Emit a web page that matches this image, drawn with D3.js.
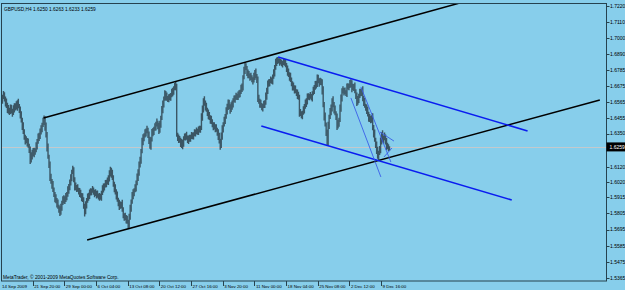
<!DOCTYPE html>
<html>
<head>
<meta charset="utf-8">
<script src="https://cdn.jsdelivr.net/npm/d3@7"></script>
<style>
  body { margin: 0; background: #87ceeb; }
  svg { display: block; }
  text { font-family: "Liberation Sans", Arial, sans-serif; }
</style>
</head>
<body>
<script>
var symbol = "GBPUSD,H4";
var lastBar = [1.6250, 1.6263, 1.6233, 1.6259]; // open high low close of the last bar

// H4 bars, 14 Sep 2009 16:00 .. 11 Dec 2009 00:00
var highs = [
  1.6601,1.6615,1.6641,1.6631,1.6602,1.6590,1.6560,1.6545,1.6526,1.6548,
  1.6546,1.6520,1.6543,1.6556,1.6557,1.6570,1.6578,1.6588,1.6551,1.6535,
  1.6502,1.6458,1.6428,1.6379,1.6342,1.6331,1.6320,1.6316,1.6281,1.6262,
  1.6222,1.6239,1.6252,1.6253,1.6250,1.6290,1.6313,1.6350,1.6356,1.6385,
  1.6407,1.6423,1.6458,1.6474,1.6468,1.6425,1.6360,1.6282,1.6206,1.6160,
  1.6076,1.6040,1.6027,1.5983,1.5952,1.5936,1.5910,1.5900,1.5865,1.5854,
  1.5872,1.5892,1.5923,1.5929,1.5923,1.5945,1.5951,1.5990,1.6006,1.6037,
  1.6072,1.6103,1.6130,1.6120,1.6052,1.6017,1.6000,1.6005,1.5981,1.5979,
  1.5967,1.5945,1.5943,1.5915,1.5872,1.5888,1.5910,1.5941,1.5946,1.5969,
  1.5977,1.5975,1.5993,1.5983,1.5967,1.5970,1.5960,1.5961,1.5941,1.5944,
  1.5940,1.5960,1.5998,1.6010,1.6011,1.6033,1.6035,1.6050,1.6066,1.6099,
  1.6124,1.6117,1.6103,1.6065,1.6022,1.6004,1.5970,1.5955,1.5913,1.5899,
  1.5887,1.5885,1.5898,1.5848,1.5807,1.5810,1.5794,1.5790,1.5763,1.5804,
  1.5864,1.5900,1.5952,1.5970,1.5977,1.6004,1.6030,1.6077,1.6106,1.6160,
  1.6192,1.6245,1.6321,1.6345,1.6352,1.6379,1.6385,1.6404,1.6390,1.6364,
  1.6328,1.6325,1.6382,1.6388,1.6397,1.6420,1.6430,1.6452,1.6438,1.6424,
  1.6437,1.6471,1.6538,1.6576,1.6602,1.6645,1.6640,1.6630,1.6606,1.6619,
  1.6621,1.6627,1.6655,1.6663,1.6673,1.6695,1.6701,1.6690,1.6356,1.6344,
  1.6334,1.6321,1.6313,1.6308,1.6332,1.6351,1.6353,1.6363,1.6336,1.6337,
  1.6342,1.6342,1.6361,1.6358,1.6359,1.6379,1.6378,1.6392,1.6383,1.6399,
  1.6404,1.6403,1.6488,1.6542,1.6591,1.6604,1.6575,1.6561,1.6526,1.6514,
  1.6497,1.6475,1.6471,1.6448,1.6427,1.6427,1.6413,1.6413,1.6390,1.6379,
  1.6355,1.6315,1.6358,1.6406,1.6427,1.6465,1.6483,1.6530,1.6554,1.6582,
  1.6580,1.6550,1.6563,1.6575,1.6591,1.6610,1.6612,1.6629,1.6622,1.6637,
  1.6646,1.6649,1.6683,1.6692,1.6748,1.6805,1.6838,1.6830,1.6811,1.6787,
  1.6777,1.6760,1.6764,1.6747,1.6734,1.6765,1.6783,1.6793,1.6756,1.6739,
  1.6615,1.6587,1.6580,1.6558,1.6552,1.6574,1.6578,1.6630,1.6663,1.6712,
  1.6720,1.6723,1.6740,1.6733,1.6752,1.6788,1.6817,1.6861,1.6868,1.6872,
  1.6864,1.6863,1.6858,1.6853,1.6845,1.6861,1.6858,1.6858,1.6831,1.6814,
  1.6794,1.6769,1.6764,1.6733,1.6707,1.6699,1.6680,1.6677,1.6653,1.6651,
  1.6635,1.6614,1.6518,1.6502,1.6506,1.6536,1.6552,1.6582,1.6591,1.6623,
  1.6625,1.6621,1.6634,1.6620,1.6639,1.6669,1.6681,1.6708,1.6711,1.6753,
  1.6751,1.6727,1.6730,1.6726,1.6720,1.6672,1.6565,1.6493,1.6426,1.6378,
  1.6430,1.6478,1.6525,1.6549,1.6591,1.6604,1.6565,1.6541,1.6503,1.6487,
  1.6444,1.6458,1.6548,1.6617,1.6659,1.6672,1.6660,1.6664,1.6646,1.6692,
  1.6693,1.6689,1.6716,1.6720,1.6714,1.6689,1.6688,1.6698,1.6653,1.6630,
  1.6607,1.6621,1.6655,1.6655,1.6659,1.6672,1.6606,1.6592,1.6554,1.6549,
  1.6533,1.6499,1.6484,1.6471,1.6475,1.6488,1.6408,1.6377,1.6322,1.6296,
  1.6260,1.6233,1.6266,1.6324,1.6359,1.6372,1.6336,1.6357,1.6343,1.6320,
  1.6287,1.6277,1.6263
];
var lows = [
  1.6561,1.6553,1.6586,1.6568,1.6535,1.6524,1.6491,1.6485,1.6477,1.6483,
  1.6487,1.6464,1.6476,1.6493,1.6508,1.6514,1.6506,1.6523,1.6491,1.6453,
  1.6425,1.6374,1.6347,1.6308,1.6276,1.6284,1.6262,1.6253,1.6218,1.6143,
  1.6152,1.6174,1.6196,1.6188,1.6205,1.6222,1.6241,1.6281,1.6300,1.6313,
  1.6343,1.6359,1.6394,1.6408,1.6370,1.6324,1.6228,1.6178,1.6116,1.6027,
  1.6007,1.5973,1.5951,1.5918,1.5881,1.5874,1.5846,1.5837,1.5810,1.5788,
  1.5797,1.5824,1.5863,1.5873,1.5870,1.5884,1.5896,1.5919,1.5940,1.5963,
  1.5995,1.6024,1.6074,1.6018,1.5962,1.5964,1.5951,1.5953,1.5935,1.5918,
  1.5912,1.5889,1.5883,1.5838,1.5785,1.5799,1.5839,1.5878,1.5891,1.5903,
  1.5927,1.5929,1.5946,1.5933,1.5915,1.5924,1.5907,1.5913,1.5900,1.5891,
  1.5899,1.5891,1.5931,1.5948,1.5962,1.5983,1.5984,1.6003,1.6000,1.6023,
  1.6057,1.6049,1.6033,1.5988,1.5949,1.5934,1.5901,1.5885,1.5855,1.5829,
  1.5838,1.5839,1.5816,1.5773,1.5755,1.5758,1.5736,1.5735,1.5706,1.5708,
  1.5762,1.5816,1.5871,1.5902,1.5922,1.5949,1.5955,1.5998,1.6027,1.6063,
  1.6118,1.6144,1.6216,1.6271,1.6297,1.6324,1.6330,1.6353,1.6320,1.6279,
  1.6247,1.6239,1.6296,1.6332,1.6340,1.6369,1.6371,1.6398,1.6380,1.6347,
  1.6356,1.6389,1.6442,1.6488,1.6528,1.6574,1.6576,1.6574,1.6566,1.6563,
  1.6577,1.6573,1.6598,1.6605,1.6615,1.6645,1.6646,1.6328,1.6300,1.6285,
  1.6288,1.6259,1.6251,1.6243,1.6260,1.6304,1.6302,1.6308,1.6286,1.6279,
  1.6295,1.6294,1.6313,1.6311,1.6310,1.6331,1.6330,1.6346,1.6342,1.6340,
  1.6357,1.6356,1.6374,1.6438,1.6494,1.6539,1.6507,1.6498,1.6470,1.6448,
  1.6442,1.6417,1.6416,1.6393,1.6372,1.6377,1.6359,1.6362,1.6335,1.6306,
  1.6282,1.6239,1.6251,1.6308,1.6358,1.6399,1.6416,1.6451,1.6480,1.6511,
  1.6517,1.6485,1.6497,1.6513,1.6527,1.6563,1.6561,1.6580,1.6579,1.6579,
  1.6595,1.6598,1.6620,1.6633,1.6644,1.6720,1.6756,1.6783,1.6743,1.6728,
  1.6727,1.6710,1.6715,1.6700,1.6685,1.6699,1.6716,1.6728,1.6695,1.6566,
  1.6554,1.6526,1.6526,1.6509,1.6501,1.6524,1.6525,1.6546,1.6580,1.6620,
  1.6670,1.6672,1.6694,1.6690,1.6685,1.6724,1.6739,1.6785,1.6811,1.6825,
  1.6830,1.6812,1.6821,1.6809,1.6801,1.6817,1.6812,1.6803,1.6770,1.6745,
  1.6736,1.6710,1.6701,1.6673,1.6644,1.6644,1.6623,1.6625,1.6607,1.6586,
  1.6581,1.6464,1.6470,1.6455,1.6447,1.6478,1.6487,1.6520,1.6532,1.6548,
  1.6581,1.6577,1.6588,1.6577,1.6569,1.6611,1.6620,1.6649,1.6658,1.6668,
  1.6694,1.6669,1.6681,1.6680,1.6617,1.6529,1.6439,1.6398,1.6334,1.6265,
  1.6269,1.6382,1.6449,1.6475,1.6501,1.6529,1.6487,1.6475,1.6443,1.6375,
  1.6384,1.6396,1.6429,1.6498,1.6569,1.6624,1.6610,1.6618,1.6607,1.6600,
  1.6650,1.6645,1.6660,1.6666,1.6631,1.6645,1.6640,1.6625,1.6586,1.6538,
  1.6547,1.6559,1.6592,1.6605,1.6607,1.6570,1.6538,1.6526,1.6505,1.6484,
  1.6466,1.6430,1.6429,1.6421,1.6423,1.6372,1.6323,1.6294,1.6252,1.6211,
  1.6179,1.6171,1.6204,1.6216,1.6276,1.6290,1.6282,1.6304,1.6276,1.6238,
  1.6244,1.6229,1.6233
];

var priceTicks = [1.7220, 1.7110, 1.7000, 1.6890, 1.6785, 1.6675, 1.6565, 1.6455, 1.6350,
                  1.6240, 1.6120, 1.6020, 1.5915, 1.5805, 1.5695, 1.5585, 1.5475, 1.5365];

// one label every 32 bars
var dateLabels = ["14 Sep 2009", "21 Sep 20:00", "29 Sep 00:00", "6 Oct 04:00", "13 Oct 08:00",
                  "20 Oct 12:00", "27 Oct 16:00", "3 Nov 20:00", "11 Nov 00:00", "18 Nov 04:00",
                  "25 Nov 08:00", "2 Dec 12:00", "9 Dec 16:00"];
var labelEvery = 32;

// trend lines: [bar1, price1, bar2, price2]
var blackLines = [[43, 1.6456, 467, 1.7247], [87, 1.5624, 605, 1.6579]];
var blueLines  = [[280, 1.6872, 532, 1.6368], [263, 1.6402, 516, 1.5897]];
var thinLines  = [[363.6, 1.6668, 393.9, 1.6156], [353.5, 1.6593, 383.8, 1.6054],
                  [382.8, 1.6361, 397, 1.6299], [386.9, 1.6190, 395, 1.6252]];

var width = 625,
    height = 290;

var svg = d3.select("body").append("svg")
    .attr("width", width)
    .attr("height", height);

svg.append("rect")
    .attr("width", width)
    .attr("height", height)
    .attr("fill", "#87ceeb");

var x = d3.scaleLinear().domain([0, 392]).range([1, 389]);
var y = d3.scaleLinear().domain([1.5365, 1.7220]).range([278, 6]);

svg.append("clipPath").attr("id", "plot")
  .append("rect")
    .attr("x", 1.5).attr("y", 3.5)
    .attr("width", 605).attr("height", 277.5);

var plot = svg.append("g").attr("clip-path", "url(#plot)");

// bid line
plot.append("line")
    .attr("x1", 1).attr("x2", 606)
    .attr("y1", Math.round(y(lastBar[3])) + 0.5)
    .attr("y2", Math.round(y(lastBar[3])) + 0.5)
    .attr("stroke", "#c4c9cc")
    .attr("stroke-width", 1);

// bars
plot.append("g").selectAll("line")
    .data(highs)
  .enter().append("line")
    .attr("x1", function(d, i) { return x(i) + 0.5; })
    .attr("x2", function(d, i) { return x(i) + 0.5; })
    .attr("y1", function(d) { return y(d); })
    .attr("y2", function(d, i) { return y(lows[i]); })
    .attr("stroke", "#3b5664")
    .attr("stroke-width", 1.4);

function drawLines(data, color, w) {
  plot.append("g").selectAll("line")
      .data(data)
    .enter().append("line")
      .attr("x1", function(d) { return x(d[0]); })
      .attr("y1", function(d) { return y(d[1]); })
      .attr("x2", function(d) { return x(d[2]); })
      .attr("y2", function(d) { return y(d[3]); })
      .attr("stroke", color)
      .attr("stroke-width", w);
}
drawLines(blackLines, "#000", 1.5);
drawLines(blueLines, "#0a1cf0", 1.6);
drawLines(thinLines, "#3a5ee8", 0.9);

// frame
svg.append("rect")
    .attr("x", 1.5).attr("y", 3.5)
    .attr("width", 605).attr("height", 277.5)
    .attr("fill", "none")
    .attr("stroke", "#26424f")
    .attr("stroke-width", 1);

// price axis (labels under the current price box are hidden)
var yBid = y(lastBar[3]);
var pAxis = svg.append("g");
pAxis.selectAll("line")
    .data(priceTicks)
  .enter().append("line")
    .attr("x1", 606.5).attr("x2", 609.5)
    .attr("y1", function(d) { return Math.round(y(d)) + 0.5; })
    .attr("y2", function(d) { return Math.round(y(d)) + 0.5; })
    .attr("stroke", "#26424f");
pAxis.selectAll("text")
    .data(priceTicks.filter(function(d) { return Math.abs(y(d) - yBid) > 8; }))
  .enter().append("text")
    .attr("x", 610)
    .attr("y", function(d) { return y(d); })
    .attr("dy", "0.36em")
    .attr("font-size", 5)
    .attr("fill", "#000")
    .text(function(d) { return d.toFixed(4); });

// current price box
svg.append("rect")
    .attr("x", 606.5).attr("y", yBid - 4.5)
    .attr("width", 18.5).attr("height", 9)
    .attr("fill", "#000");
svg.append("text")
    .attr("x", 609.5).attr("y", yBid)
    .attr("dy", "0.36em")
    .attr("font-size", 5)
    .attr("fill", "#fff")
    .text(lastBar[3].toFixed(4));

// time axis
var tAxis = svg.append("g");
tAxis.selectAll("line")
    .data(dateLabels.slice(1))
  .enter().append("line")
    .attr("x1", function(d, i) { return Math.round(x((i + 1) * labelEvery)) + 0.5; })
    .attr("x2", function(d, i) { return Math.round(x((i + 1) * labelEvery)) + 0.5; })
    .attr("y1", 281).attr("y2", 286)
    .attr("stroke", "#26424f");
tAxis.selectAll("text")
    .data(dateLabels)
  .enter().append("text")
    .attr("x", function(d, i) { return i === 0 ? 2 : x(i * labelEvery) + 1.5; })
    .attr("y", 287.5)
    .attr("font-size", 4.4)
    .attr("fill", "#000")
    .text(function(d) { return d; });

// header and copyright
svg.append("text")
    .attr("x", 4).attr("y", 11)
    .attr("font-size", 4.8)
    .attr("fill", "#000")
    .text(symbol + "  " + lastBar.map(function(v) { return v.toFixed(4); }).join(" "));

svg.append("text")
    .attr("x", 3).attr("y", 278.5)
    .attr("font-size", 4.8)
    .attr("fill", "#000")
    .text("MetaTrader, \u00a9 2001-2009 MetaQuotes Software Corp.");
</script>
</body>
</html>
